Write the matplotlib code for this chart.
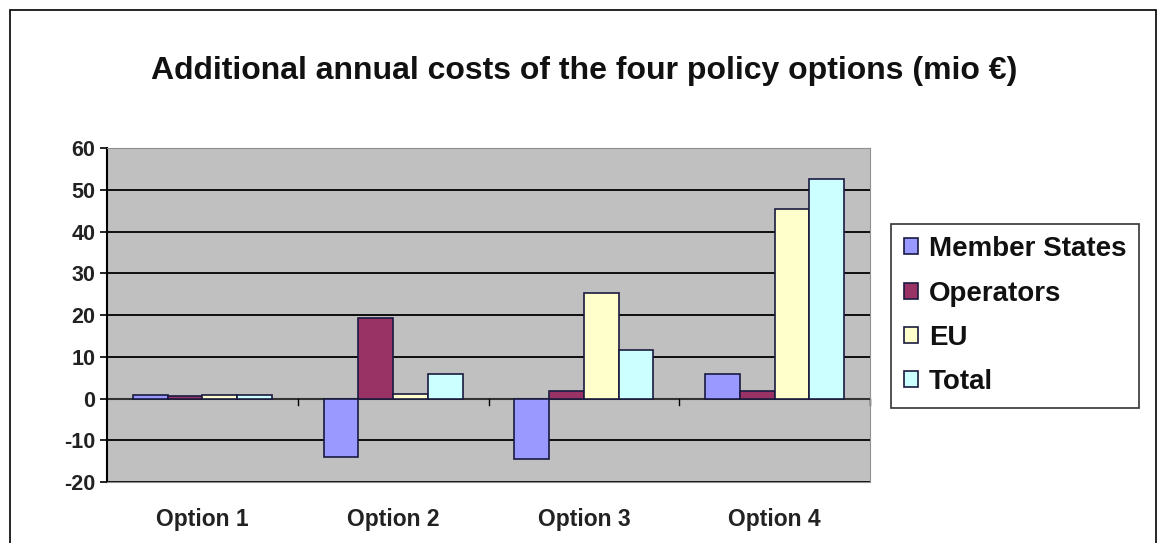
import numpy as np
import matplotlib.pyplot as plt
from matplotlib.patches import Rectangle

plt.rcParams["axes.unicode_minus"] = False
plt.rcParams["font.family"] = ["Liberation Sans", "DejaVu Sans"]

# valores (mio EUR)
opcoes = ["Option 1", "Option 2", "Option 3", "Option 4"]
member_states = [0.8, -14.1, -14.6, 5.8]
operators = [0.6, 19.2, 1.8, 1.8]
eu = [0.8, 1.2, 25.2, 45.3]
total = [0.8, 5.8, 11.7, 52.5]

series = [("Member States", member_states, "#9999FF"),
          ("Operators", operators, "#993366"),
          ("EU", eu, "#FFFFCC"),
          ("Total", total, "#CCFFFF")]

fig = plt.figure(figsize=(11.59, 5.43), dpi=100)
ax = fig.add_axes([0.0923, 0.1123, 0.6584, 0.615])
ax.set_facecolor("#C0C0C0")

x = np.arange(len(opcoes))
w = 0.182
for i, (nome, vals, cor) in enumerate(series):
    ax.bar(x + (i - 1.5) * w, vals, w, color=cor, edgecolor="#1a1a40",
           linewidth=1.2, label=nome, zorder=3)

ax.set_xlim(-0.5, 3.5)
ax.set_ylim(-20, 60)
ax.set_yticks(range(-20, 61, 10))
ax.yaxis.grid(True, color="black", linewidth=1.3, zorder=1)
ax.axhline(0, color="#333333", linewidth=1.5, zorder=2)

# ticks no eixo x entre as categorias, sobre a linha zero
ax.set_xticks(x)
ax.set_xticklabels(opcoes, fontsize=16.5, fontweight="bold", color="#222222")
ax.tick_params(axis="x", length=0, pad=19)
for b in [0.5, 1.5, 2.5, 3.5]:
    ax.plot([b, b], [0, -1.5], color="black", linewidth=1, zorder=2, clip_on=False)

for lab in ax.get_yticklabels():
    lab.set_fontweight("bold")
    lab.set_fontsize(15.5)
    lab.set_color("#222222")
ax.tick_params(axis="y", direction="out", length=5, width=1.2)

for s in ["top", "right", "bottom"]:
    ax.spines[s].set_color("#909090")
ax.spines["left"].set_color("black")
ax.spines["left"].set_linewidth(1.5)

fig.text(0.504, 0.87, "Additional annual costs of the four policy options (mio €)",
         ha="center", va="center", fontsize=23, fontweight="bold", color="#111111")

leg = fig.legend(loc="upper left", bbox_to_anchor=(0.769, 0.588),
                 prop={"weight": "bold", "size": 20}, frameon=True, fancybox=False,
                 handlelength=0.5, handleheight=0.5, handletextpad=0.4,
                 labelspacing=0.66, borderpad=0.45, borderaxespad=0)
leg.get_frame().set_edgecolor("black")
leg.get_frame().set_linewidth(1.2)
for t in leg.get_texts():
    t.set_color("#111111")

# moldura externa
fig.patches.append(Rectangle((10 / 1159, -0.1), 1146 / 1159, 1 - 10 / 543 + 0.1,
                             transform=fig.transFigure, fill=False,
                             edgecolor="black", linewidth=1.2))

fig.savefig("out.png", dpi=100)
